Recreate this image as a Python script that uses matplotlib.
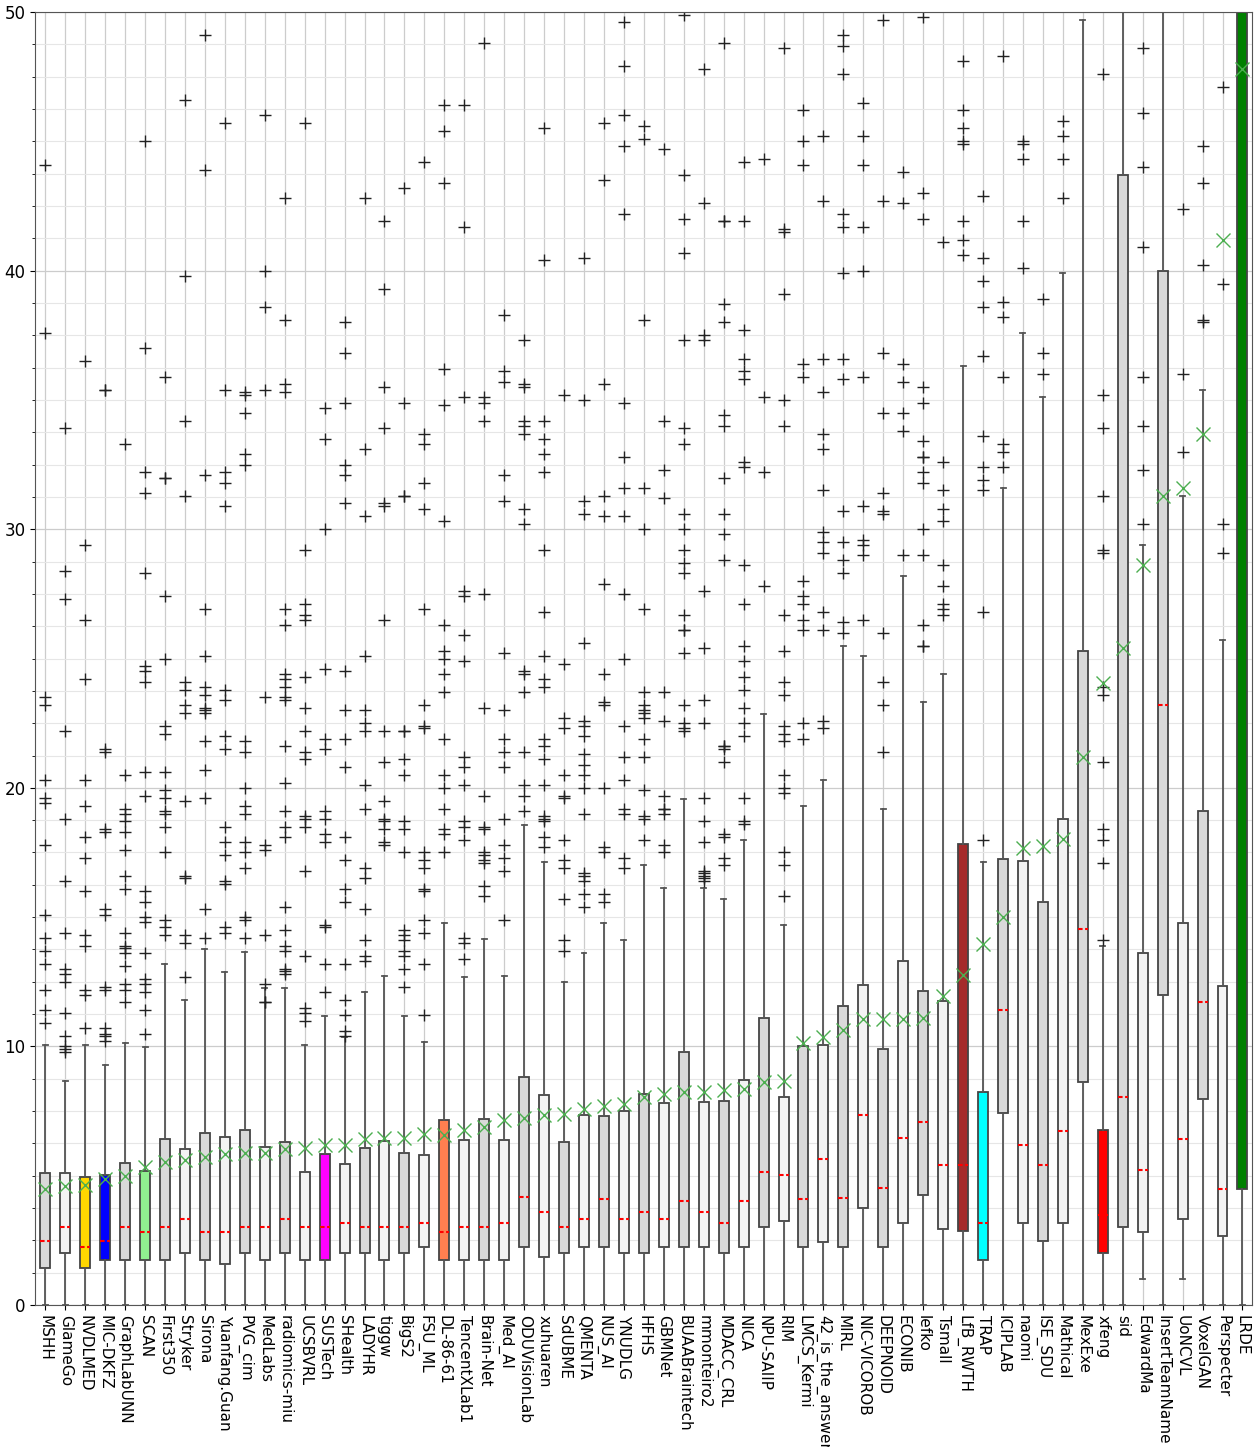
import numpy as np
import matplotlib
matplotlib.use('Agg')
import matplotlib.pyplot as plt
from matplotlib.ticker import MultipleLocator

teams = ['MSHH', 'GlameGo', 'NVDLMED', 'MIC-DKFZ', 'GraphLabUNN', 'SCAN', 'First350', 'Stryker',
         'Sirona', 'Yuanfang.Guan', 'PVG_cim', 'MedLabs', 'radiomics-miu', 'UCSBVRL', 'SUSTech',
         'SHealth', 'LADYHR', 'tiggw', 'BigS2', 'FSU_ML', 'DL-86-61', 'TencentXLab1', 'Brain-Net',
         'Med_AI', 'ODUVisionLab', 'xuhuaren', 'SdUBME', 'QMENTA', 'NUS_AI', 'YNUDLG', 'HFHS',
         'GBMNet', 'BUAABraintech', 'mmonteiro2', 'MDACC_CRL', 'NICA', 'NPU-SAIIP', 'RIM',
         'LMCS_Kermi', '42_is_the_answer', 'MIRL', 'NIC-VICOROB', 'DEEPNOID', 'ECONIB', 'lefko',
         'Tsmall', 'LfB_RWTH', 'TRAP', 'ICIPLAB', 'naomi', 'ISE_SDU', 'Mathical', 'MexExe', 'xfeng',
         'sid', 'EdwardMa', 'InsertTeamName', 'UoNCVL', 'VoxelGAN', 'Perspecter', 'LRDE']

q1 = [1.42, 2.0, 1.42, 1.74, 1.74, 1.74, 1.74, 2.0, 1.74, 1.59,
      2.0, 1.74, 2.0, 1.74, 1.74, 2.0, 2.0, 1.74, 2.0, 2.25,
      1.74, 1.74, 1.74, 1.74, 2.25, 1.87, 2.0, 2.25, 2.25, 2.0,
      2.0, 2.25, 2.25, 2.25, 2.0, 2.25, 3.01, 3.25, 2.25, 2.44,
      2.25, 3.74, 2.25, 3.17, 4.25, 2.93, 2.85, 1.74, 7.44, 3.17,
      2.47, 3.17, 8.61, 2.02, 3.01, 2.83, 11.99, 3.32, 7.96, 2.67, 4.49]
med = [2.46, 3.03, 2.25, 2.46, 3.03, 2.83, 3.03, 3.32, 2.83, 2.83,
       3.03, 3.03, 3.32, 3.03, 3.03, 3.17, 3.03, 3.03, 3.03, 3.17,
       2.83, 3.03, 3.03, 3.17, 4.18, 3.61, 3.03, 3.32, 4.12, 3.32,
       3.61, 3.32, 4.02, 3.61, 3.17, 4.02, 5.13, 5.01, 4.12, 5.65,
       4.13, 7.35, 4.51, 6.46, 7.08, 5.40, 5.40, 3.17, 11.41, 6.17,
       5.40, 6.74, 14.56, 3.5, 8.05, 5.21, 23.2, 6.43, 11.71, 4.49, 52.0]
q3 = [5.09, 5.09, 4.96, 5.03, 5.48, 5.19, 6.41, 6.04, 6.67, 6.48,
      6.77, 6.13, 6.30, 5.16, 5.84, 5.45, 6.08, 6.36, 5.87, 5.81,
      7.14, 6.38, 7.19, 6.38, 8.82, 8.12, 6.30, 7.35, 7.32, 7.52,
      8.17, 7.81, 9.78, 7.84, 7.89, 8.69, 11.10, 8.05, 10.0, 10.04,
      11.58, 12.37, 9.91, 13.31, 12.14, 11.75, 17.83, 8.25, 17.23, 17.18,
      15.57, 18.79, 25.3, 6.78, 43.7, 13.62, 40.0, 14.79, 19.1, 12.33, 60.0]
whislo = [0.0] * 55 + [1.0, 0.0, 1.0, 0.0, 0.0, 0.0]
whishi = [10.04, 8.66, 10.04, 9.27, 10.12, 9.99, 13.2, 11.8, 13.76, 12.89,
          13.65, 12.27, 12.27, 10.04, 11.18, 10.36, 12.12, 12.72, 11.16, 10.17,
          14.76, 12.69, 14.14, 12.72, 18.58, 17.15, 12.48, 13.62, 14.76, 14.11,
          17.0, 16.14, 19.56, 16.14, 15.7, 18.0, 22.84, 14.71, 19.31, 20.32,
          25.5, 25.1, 19.2, 28.2, 23.33, 24.4, 36.3, 17.12, 31.6, 37.6,
          35.1, 39.9, 49.7, 13.9, 60.0, 29.4, 60.0, 31.3, 35.4, 25.7, 70.0]
means = [4.5, 4.59, 4.64, 4.86, 5.0, 5.35, 5.52, 5.6, 5.73, 5.86,
         5.87, 5.87, 6.04, 6.08, 6.2, 6.2, 6.41, 6.46, 6.46, 6.62,
         6.59, 6.78, 6.87, 7.16, 7.22, 7.34, 7.39, 7.6, 7.68, 7.76,
         8.05, 8.17, 8.25, 8.25, 8.33, 8.36, 8.62, 8.66, 10.12, 10.36,
         10.64, 11.06, 11.08, 11.08, 11.1, 11.96, 12.77, 13.98, 14.99, 17.67,
         17.77, 18.04, 21.2, 24.06, 25.4, 28.6, 31.3, 31.6, 33.7, 41.2, 47.8]

outliers = [
    [44.1, 37.6, 23.5, 23.2, 20.3, 19.6, 19.4, 17.8, 15.1, 14.2, 13.7, 13.2, 12.2, 11.4, 10.9],
    [33.9, 28.4, 27.3, 22.2, 18.8, 16.4, 14.4, 13.0, 12.8, 12.5, 11.3, 10.4, 10.0, 9.9, 9.8],
    [36.5, 29.4, 26.5, 24.2, 20.3, 19.3, 18.1, 17.3, 16.0, 14.3, 13.9, 12.2, 12.0, 10.7],
    [35.4, 35.4, 21.5, 21.4, 18.4, 18.3, 15.3, 15.1, 12.3, 12.2, 10.7, 10.5, 10.4, 10.2],
    [33.3, 20.5, 19.2, 19.0, 18.7, 18.3, 17.6, 16.6, 16.1, 14.4, 13.9, 13.8, 13.6, 13.1, 12.4, 12.2, 11.7],
    [45.0, 37.0, 32.2, 31.4, 28.3, 24.7, 24.5, 24.1, 20.6, 19.7, 16.0, 15.6, 15.0, 14.8, 13.6, 12.6, 12.4,
     12.1, 11.4, 10.5],
    [35.9, 32.0, 32.0, 27.4, 25.0, 22.4, 22.1, 20.6, 19.9, 19.6, 19.1, 19.0, 18.5, 17.5, 14.9, 14.6, 14.3],
    [46.6, 39.8, 34.2, 31.3, 24.1, 23.8, 23.2, 22.9, 19.5, 16.6, 16.5, 14.3, 14.0, 12.7],
    [49.1, 43.9, 32.1, 26.9, 25.1, 23.9, 23.6, 23.1, 23.0, 22.9, 21.8, 20.7, 19.6, 15.3, 14.2],
    [45.7, 35.4, 32.2, 31.8, 30.9, 23.8, 23.4, 22.0, 21.5, 18.5, 17.9, 17.4, 16.4, 16.3, 14.6, 14.4],
    [35.3, 35.2, 34.5, 32.9, 32.5, 21.8, 21.4, 20.0, 19.3, 19.0, 17.9, 17.5, 16.9, 15.0, 14.9, 14.2],
    [46.0, 40.0, 38.6, 35.4, 23.5, 17.8, 17.6, 14.3, 12.4, 11.7, 11.7],
    [42.8, 38.1, 35.6, 35.3, 26.9, 26.3, 24.4, 24.2, 23.9, 23.5, 23.4, 21.6, 20.2, 19.1, 18.5, 18.1, 15.4,
     14.5, 13.9, 13.7, 13.0, 12.9, 12.8],
    [45.7, 29.2, 27.1, 26.7, 26.5, 24.3, 23.1, 22.2, 21.4, 21.1, 18.9, 18.8, 18.5, 16.8, 13.5, 11.5, 11.3, 11.0],
    [34.7, 33.5, 30.0, 24.6, 21.9, 21.5, 19.1, 18.8, 18.2, 17.9, 14.7, 14.6, 13.2, 12.1],
    [38.0, 36.8, 34.9, 32.5, 32.1, 31.0, 24.5, 23.0, 21.9, 20.8, 18.1, 17.2, 16.1, 15.6, 13.2, 11.8, 11.2,
     10.6, 10.4],
    [42.8, 33.1, 30.5, 25.1, 23.0, 22.5, 22.2, 20.1, 19.2, 16.9, 16.5, 15.3, 14.1, 13.5, 13.3],
    [41.9, 39.3, 35.5, 33.9, 31.0, 30.9, 26.5, 22.2, 21.0, 19.5, 18.8, 18.7, 18.4, 17.9, 17.8],
    [43.2, 34.9, 31.3, 31.3, 22.2, 22.2, 21.1, 20.5, 18.7, 18.4, 17.5, 14.5, 14.3, 14.1, 13.7, 13.5, 13.0, 12.3],
    [44.2, 33.7, 33.3, 31.8, 30.8, 26.9, 23.2, 22.4, 22.3, 17.5, 17.2, 16.9, 16.1, 16.0, 14.9, 14.4, 13.2, 11.2],
    [46.4, 45.4, 43.4, 36.2, 34.8, 30.3, 26.3, 25.3, 25.0, 24.4, 23.7, 21.9, 20.5, 20.0, 19.2, 18.4, 18.2, 17.5],
    [46.4, 41.7, 35.1, 27.6, 27.4, 25.9, 24.9, 21.2, 20.8, 20.1, 18.7, 18.5, 18.0, 14.2, 14.0, 13.4],
    [48.8, 35.1, 34.9, 34.2, 27.5, 23.1, 19.7, 18.5, 18.4, 17.5, 17.4, 17.2, 17.1, 16.2, 15.8],
    [38.3, 36.1, 35.7, 32.1, 31.1, 25.2, 23.0, 21.9, 21.4, 20.8, 18.8, 17.8, 17.3, 16.8, 14.9],
    [37.3, 35.6, 35.5, 34.2, 34.0, 33.7, 30.8, 30.2, 24.5, 24.4, 23.7, 21.4, 20.1, 19.7, 19.1],
    [45.5, 40.4, 34.2, 33.5, 32.9, 32.2, 29.2, 26.8, 25.1, 24.2, 23.9, 21.9, 21.6, 21.1, 20.1, 18.9, 18.8,
     18.7, 18.1, 17.7],
    [35.2, 24.8, 22.7, 22.3, 20.5, 19.7, 19.6, 18.0, 17.2, 16.9, 15.7, 14.1, 13.7],
    [40.5, 35.0, 31.1, 30.6, 25.6, 22.6, 22.4, 22.0, 21.3, 20.9, 20.5, 20.0, 19.0, 16.7, 16.6, 16.4, 15.9, 15.4],
    [45.7, 43.5, 35.6, 31.3, 30.5, 27.9, 24.4, 23.3, 23.2, 20.0, 17.7, 17.5, 15.9, 15.6],
    [49.6, 47.9, 46.0, 44.8, 42.2, 34.9, 32.8, 31.6, 30.5, 27.5, 25.0, 22.4, 21.2, 20.3, 19.2, 19.0, 17.3, 16.9],
    [45.6, 45.1, 38.1, 31.6, 30.0, 26.9, 23.7, 23.2, 23.0, 22.9, 22.7, 21.9, 21.2, 19.9, 18.9, 18.8, 18.0],
    [44.7, 34.2, 32.3, 31.2, 23.7, 22.6, 19.7, 19.2, 19.2, 19.0, 17.8, 17.5],
    [49.9, 43.7, 42.0, 40.7, 37.3, 33.9, 33.3, 30.6, 30.0, 29.2, 28.7, 28.3, 26.7, 26.1, 26.1, 25.2, 23.2,
     22.5, 22.3, 22.2],
    [47.8, 42.6, 37.5, 37.3, 27.6, 25.4, 23.4, 22.5, 19.6, 18.7, 17.9, 16.8, 16.7, 16.6, 16.5, 16.4],
    [48.8, 41.9, 41.9, 38.7, 38.0, 34.4, 34.0, 32.0, 30.6, 29.8, 28.8, 21.6, 21.6, 21.5, 21.0, 18.2, 18.1,
     17.3, 17.0],
    [44.2, 41.9, 37.7, 36.6, 36.1, 35.8, 32.6, 32.4, 28.6, 27.1, 25.5, 24.9, 24.3, 23.8, 23.1, 22.5, 22.0,
     19.6, 18.7, 18.6],
    [44.3, 35.1, 32.2, 27.8],
    [48.6, 41.6, 41.5, 39.1, 35.0, 34.0, 26.7, 25.3, 24.1, 23.6, 22.4, 22.1, 21.8, 20.5, 20.0, 19.8, 17.5,
     17.0, 15.8],
    [46.2, 45.0, 44.1, 36.4, 35.9, 28.0, 27.4, 27.1, 26.5, 26.1, 22.5, 21.9],
    [45.2, 42.7, 36.6, 35.3, 33.7, 33.1, 31.5, 29.9, 29.5, 29.1, 26.8, 26.1, 22.6, 22.3],
    [49.1, 48.7, 47.6, 42.2, 41.7, 39.9, 36.6, 35.8, 30.7, 29.5, 28.8, 28.3, 26.4, 26.0],
    [46.5, 45.2, 44.1, 41.7, 40.0, 35.9, 30.9, 29.6, 29.4, 29.0, 26.5],
    [49.7, 42.7, 36.8, 34.5, 31.4, 30.7, 30.6, 26.0, 24.1, 23.2, 21.4],
    [43.8, 42.6, 36.4, 35.7, 34.5, 33.8, 29.0],
    [49.8, 43.0, 42.0, 35.5, 34.9, 33.4, 32.8, 32.8, 32.2, 31.8, 30.0, 29.0, 26.3, 25.5, 25.5],
    [41.1, 32.6, 31.5, 30.8, 30.3, 28.6, 27.8, 27.1, 26.9, 26.7],
    [48.1, 46.2, 45.5, 45.0, 44.9, 41.9, 41.2, 40.6],
    [42.9, 40.5, 39.6, 38.6, 36.7, 33.6, 32.4, 31.9, 31.5, 26.8, 18.0],
    [48.3, 38.8, 38.2, 35.9, 33.3, 33.0, 32.4],
    [45.0, 44.9, 44.3, 41.9, 40.1],
    [38.9, 36.8, 36.0],
    [45.8, 45.2, 44.3, 42.8],
    [],
    [47.6, 35.2, 33.9, 31.3, 29.2, 29.1, 23.9, 23.6, 21.0, 18.4, 18.0, 17.1, 14.1],
    [],
    [48.6, 46.1, 44.0, 40.9, 35.9, 34.0, 32.3, 30.2],
    [],
    [42.4, 36.0, 33.0],
    [44.8, 43.4, 40.2, 38.1, 38.0],
    [47.1, 39.5, 30.2, 29.1],
    [],
]

highlight = {'NVDLMED': 'gold', 'MIC-DKFZ': 'blue', 'SCAN': 'lightgreen', 'SUSTech': 'magenta',
             'DL-86-61': 'coral', 'LfB_RWTH': 'brown', 'TRAP': 'cyan', 'xfeng': 'red', 'LRDE': 'green'}

stats = []
for i, name in enumerate(teams):
    stats.append(dict(label=name, q1=q1[i], med=med[i], q3=q3[i], whislo=whislo[i],
                      whishi=whishi[i], mean=means[i], fliers=np.array(outliers[i])))

fig, ax = plt.subplots(figsize=(12.6, 14.47), dpi=100)
fig.subplots_adjust(left=0.028, right=0.994, top=0.9917, bottom=0.0981)

bp = ax.bxp(stats, showmeans=True, patch_artist=True, widths=0.5,
            boxprops=dict(edgecolor='#444444', linewidth=1.3),
            whiskerprops=dict(color='#555555', linewidth=1.3),
            capprops=dict(color='#555555', linewidth=1.3),
            medianprops=dict(color='red', linestyle=(0, (2.2, 1.2)), linewidth=1.5),
            meanprops=dict(marker='x', markeredgecolor='#4caf50', markerfacecolor='none',
                           markersize=10, markeredgewidth=1.0),
            flierprops=dict(marker='+', markeredgecolor='#222222', markersize=8,
                            markeredgewidth=1.0))

for i, patch in enumerate(bp['boxes']):
    if teams[i] in highlight:
        patch.set_facecolor(highlight[teams[i]])
    elif i % 2 == 0:
        patch.set_facecolor('#d9d9d9')
    else:
        patch.set_facecolor('#f3f3f3')

ax.set_ylim(0, 50)
ax.set_xlim(0.5, len(teams) + 0.5)
ax.yaxis.set_major_locator(MultipleLocator(10))
ax.yaxis.set_minor_locator(MultipleLocator(1.25))
ax.set_axisbelow(True)
ax.grid(which='major', color='#cccccc', linewidth=0.9)
ax.grid(which='minor', axis='y', color='#e6e6e6', linewidth=0.8)
ax.tick_params(axis='y', labelsize=12)
for lab in ax.get_xticklabels():
    lab.set_rotation(-90)
    lab.set_ha('center')
    lab.set_va('top')
    lab.set_fontsize(11)
for s in ax.spines.values():
    s.set_color('#555555')

fig.savefig('out.png', dpi=100)
